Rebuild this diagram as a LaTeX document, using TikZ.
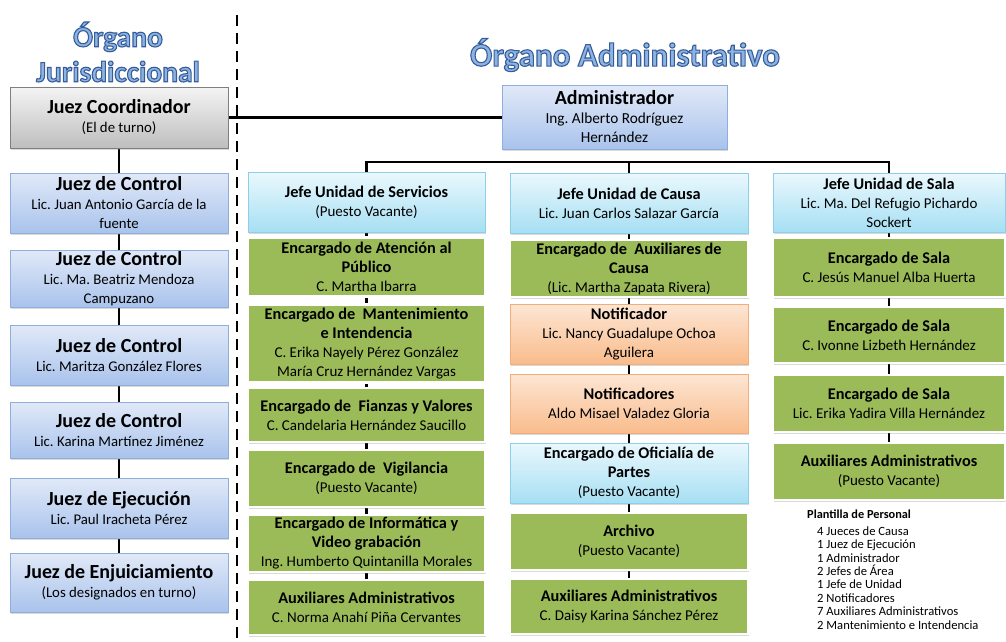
\documentclass[tikz,border=0pt]{standalone}
\usepackage{fontspec}
\setmainfont{Carlito}
\usepackage{tikz}
\usetikzlibrary{shadows,backgrounds}
\frenchspacing

\definecolor{titlefill}{HTML}{8DB3E2}
\definecolor{bluetop}{HTML}{E1E9F8}
\definecolor{bluebot}{HTML}{A9C3EC}
\definecolor{blueedge}{HTML}{8FAEDB}
\definecolor{graytop}{HTML}{F4F4F4}
\definecolor{graybot}{HTML}{BEBEBE}
\definecolor{grayedge}{HTML}{7F7F7F}
\definecolor{cyantop}{HTML}{EAF8FD}
\definecolor{cyanbot}{HTML}{A6DFF3}
\definecolor{cyanedge}{HTML}{8DCFE8}
\definecolor{olive}{HTML}{9BBB59}
\definecolor{orangetop}{HTML}{FDE6D4}
\definecolor{orangebot}{HTML}{F9BC8C}
\definecolor{orangeedge}{HTML}{F2AE7A}

% outlined heading text
\newcommand{\outl}[1]{\special{pdf:literal direct 2 Tr 1.1 w 0.21 0.36 0.60 RG}#1\special{pdf:literal direct 0 Tr}}
\newcommand{\jhead}[1]{{\fontsize{20}{21}\selectfont\bfseries #1}}
\newcommand{\chead}[1]{{\fontsize{16.3}{19.5}\selectfont\bfseries #1}}

\begin{document}
\begin{tikzpicture}[x=1pt,y=-1pt,
    conn/.style={line width=2.6pt},
    sepline/.style={line width=2.8pt,dash pattern=on 11pt off 7pt},
    ttl/.style={font=\bfseries,text=titlefill,align=center},
    base/.style={rectangle,align=center,inner sep=1pt,
        font=\fontsize{15}{19}\selectfont,
        drop shadow={opacity=0.3,shadow xshift=1pt,shadow yshift=-1.5pt}},
    bluebox/.style={base,draw=blueedge,line width=0.7pt,top color=bluetop,bottom color=bluebot},
    graybox/.style={base,draw=grayedge,line width=0.8pt,top color=graytop,bottom color=graybot},
    cyanbox/.style={base,draw=cyanedge,line width=0.7pt,top color=cyantop,bottom color=cyanbot},
    greenbox/.style={base,draw=white,line width=2.2pt,fill=olive},
    orangebox/.style={base,draw=orangeedge,line width=0.7pt,top color=orangetop,bottom color=orangebot},
    lcol/.style={minimum width=218pt,font=\fontsize{14.8}{19}\selectfont},
    scol/.style={minimum width=237pt},
    ccol/.style={minimum width=238pt},
    rcol/.style={minimum width=232pt}]
    \useasboundingbox (0,0) rectangle (1006,642);

    % titles
    \node[ttl,font=\fontsize{29.5}{35}\selectfont\bfseries] (tjur) at (118,52) {\outl{Órgano}\\\outl{Jurisdiccional}};
    \node[ttl,font=\fontsize{33}{36}\selectfont\bfseries] (tadm) at (625,55) {\outl{Órgano Administrativo}};

    % separator
    \draw[sepline] (237,15) -- (237,642);

    % organo jurisdiccional
    \node[graybox,lcol,minimum height=61pt] (coord) at (119,117.5) {\jhead{Juez Coordinador}\\(El de turno)};
    \node[bluebox,lcol,minimum height=60pt] (jc1) at (119,203) {\jhead{Juez de Control}\\Lic. Juan Antonio García de la\\fuente};
    \node[bluebox,lcol,minimum height=57pt] (jc2) at (119,278.5) {\jhead{Juez de Control}\\Lic. Ma. Beatriz Mendoza\\Campuzano};
    \node[bluebox,lcol,minimum height=60pt] (jc3) at (119,355) {\jhead{Juez de Control}\\Lic. Maritza González Flores};
    \node[bluebox,lcol,minimum height=56pt] (jc4) at (119,430) {\jhead{Juez de Control}\\Lic. Karina Martínez Jiménez};
    \node[bluebox,lcol,minimum height=60pt] (jej) at (119,508) {\jhead{Juez de Ejecución}\\Lic. Paul Iracheta Pérez};
    \node[bluebox,lcol,minimum height=59pt] (jen) at (119,582.5) {\jhead{Juez de Enjuiciamiento}\\(Los designados en turno)};

    % administrador
    \node[bluebox,minimum width=225pt,minimum height=64pt,font=\fontsize{15.3}{19}\selectfont] (admin) at (614.5,117) {\jhead{Administrador}\\Ing. Alberto Rodríguez\\Hernández};

    % unidad de servicios
    \node[cyanbox,scol,minimum height=60pt] (jserv) at (366.5,202.5) {\chead{Jefe Unidad de Servicios}\\(Puesto Vacante)};
    \node[greenbox,scol,minimum height=59pt] (aten) at (366.5,267) {\chead{Encargado de Atención al}\\\chead{Público}\\C. Martha Ibarra};
    \node[greenbox,scol,minimum height=78pt] (mant) at (366.5,343.5) {\chead{Encargado de\ \ Mantenimiento}\\\chead{e Intendencia}\\C. Erika Nayely Pérez González\\María Cruz Hernández Vargas};
    \node[greenbox,scol,minimum height=54pt] (fian) at (366.5,415) {\chead{Encargado de\ \ Fianzas y Valores}\\C. Candelaria Hernández Saucillo};
    \node[greenbox,scol,minimum height=57pt] (vigi) at (366.5,478.5) {\chead{Encargado de\ \ Vigilancia}\\(Puesto Vacante)};
    \node[greenbox,scol,minimum height=57pt] (info) at (366.5,543.5) {\chead{Encargado de Informática y}\\\chead{Video grabación}\\Ing. Humberto Quintanilla Morales};
    \node[greenbox,scol,minimum height=55pt] (auxs) at (366.5,607.5) {\chead{Auxiliares Administrativos}\\C. Norma Anahí Piña Cervantes};

    % unidad de causa
    \node[cyanbox,ccol,minimum height=60pt] (jcau) at (629,203) {\chead{Jefe Unidad de Causa}\\Lic. Juan Carlos Salazar García};
    \node[greenbox,ccol,minimum height=57pt] (auxc) at (629,268.5) {\chead{Encargado de\ \ Auxiliares de}\\\chead{Causa}\\(Lic. Martha Zapata Rivera)};
    \node[orangebox,ccol,minimum height=60pt] (notf) at (629,334) {\chead{Notificador}\\Lic. Nancy Guadalupe Ochoa\\Aguilera};
    \node[orangebox,ccol,minimum height=59pt] (notfs) at (629,403.5) {\chead{Notificadores}\\Aldo Misael Valadez Gloria};
    \node[cyanbox,ccol,minimum height=60pt] (ofic) at (629,473) {\chead{Encargado de Oficialía de}\\\chead{Partes}\\(Puesto Vacante)};
    \node[greenbox,ccol,minimum height=57pt] (arch) at (629,541.5) {\chead{Archivo}\\(Puesto Vacante)};
    \node[greenbox,ccol,minimum height=55pt] (auxd) at (629,606.5) {\chead{Auxiliares Administrativos}\\C. Daisy Karina Sánchez Pérez};

    % unidad de sala
    \node[cyanbox,rcol,minimum height=59pt] (jsala) at (889,202.5) {\chead{Jefe Unidad de Sala}\\Lic. Ma. Del Refugio Pichardo\\Sockert};
    \node[greenbox,rcol,minimum height=59pt] (sala1) at (889,267.5) {\chead{Encargado de Sala}\\C. Jesús Manuel Alba Huerta};
    \node[greenbox,rcol,minimum height=56pt] (sala2) at (889,335) {\chead{Encargado de Sala}\\C. Ivonne Lizbeth Hernández};
    \node[greenbox,rcol,minimum height=57pt] (sala3) at (889,403.5) {\chead{Encargado de Sala}\\Lic. Erika Yadira Villa Hernández};
    \node[greenbox,rcol,minimum height=57pt] (auxl) at (889,471.5) {\chead{Auxiliares Administrativos}\\(Puesto Vacante)};

    % plantilla
    \node[anchor=north west,align=left,inner sep=0pt,font=\fontsize{12.6}{13.4}\selectfont] (plant) at (807,510)
        {{\fontsize{12.3}{13.4}\selectfont\bfseries Plantilla de Personal}\\[3pt]
        \hspace*{10pt}4 Jueces de Causa\\
        \hspace*{10pt}1 Juez de Ejecución\\
        \hspace*{10pt}1 Administrador\\
        \hspace*{10pt}2 Jefes de Área\\
        \hspace*{10pt}1 Jefe de Unidad\\
        \hspace*{10pt}2 Notificadores\\
        \hspace*{10pt}7 Auxiliares Administrativos\\
        \hspace*{10pt}2 Mantenimiento e Intendencia};

    % connectors
    \begin{pgfonlayer}{background}
    \draw[conn] (coord.east) -- (coord.east -| admin.west);
    \draw[conn] (coord) -- (jc1) -- (jc2) -- (jc3) -- (jc4) -- (jej) -- (jen);
    \coordinate (bar) at (0,162);
    \draw[conn] (jserv.north) |- (jsala.north |- bar) -- (jsala.north);
    \draw[conn] (jcau.north) -- (jcau.north |- bar);
    \draw[conn] (jserv) -- (aten) -- (mant) -- (fian) -- (vigi) -- (info) -- (auxs);
    \draw[conn] (jcau) -- (auxc) -- (notf) -- (notfs) -- (ofic) -- (arch) -- (auxd);
    \draw[conn] (jsala) -- (sala1) -- (sala2) -- (sala3) -- (auxl);
    \end{pgfonlayer}
\end{tikzpicture}
\end{document}
